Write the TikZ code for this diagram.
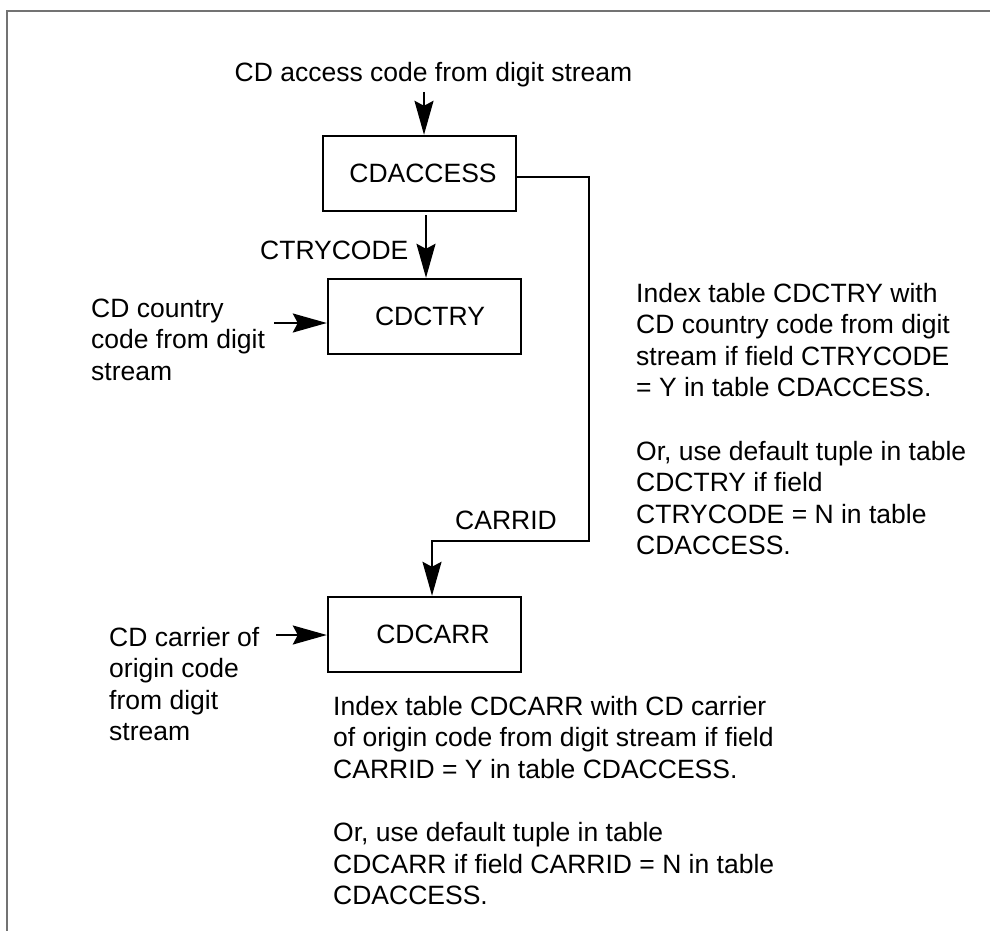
\documentclass[tikz,border=0pt]{standalone}
\usepackage{fontspec}
\setmainfont{Liberation Sans}
\usetikzlibrary{arrows.meta,calc}
\newcommand\fsz{\fontsize{26.5}{31.6}\selectfont}
\definecolor{framegray}{RGB}{115,115,115}
\tikzset{
  tbl/.style={draw, line width=2.4pt, minimum width=193pt, minimum height=75pt, inner sep=0pt, font=\fsz},
  txt/.style={inner sep=0pt, font=\fsz},
  conn/.style={line width=2pt},
  arr/.style={conn, -{Stealth[length=34pt,width=19pt,inset=5pt]}},
  frameline/.style={draw=framegray, line width=2pt}
}
\begin{document}
\begin{tikzpicture}[x=1pt,y=-1pt]
\useasboundingbox (0,0) rectangle (990,931);
\draw[frameline] (7,931) -- (7,11) -- (990,11);

\node[tbl] (acc) at (419.5,173.5) {\hspace*{7pt}CDACCESS};
\node[tbl] (ctry) at (424.5,316.5) {\hspace*{11pt}CDCTRY};
\node[tbl] (carr) at (424.5,634.5) {\hspace*{17pt}CDCARR};

\node[txt, anchor=base] (top) at (433.5,82) {CD access code from digit stream};
\coordinate (a1) at (424,92);
\draw[arr] (a1) -- (a1 |- acc.north);

\coordinate (a2) at (426,215);
\draw[arr] (a2) -- (a2 |- ctry.north);
\node[txt, anchor=base west] (ctrycode) at (260,259) {CTRYCODE};

\node[txt, anchor=base west, align=left] (ctryin) at (91,380.2) {CD country\\code from digit\\stream};
\coordinate (a3) at (274,323);
\draw[arr] (a3) -- (a3 -| ctry.west);

\draw[arr] (acc.east |- 0,177) -| (589,541) -| (carr.north -| 432,0);
\node[txt, anchor=base west] (carrid) at (455,529) {CARRID};

\node[txt, anchor=base west, align=left] (carrin) at (109,740.8) {CD carrier of\\origin code\\from digit\\stream};
\coordinate (a4) at (276,635);
\draw[arr] (a4) -- (a4 -| carr.west);

\node[txt, anchor=base west, align=left] (note1) at (636,554.8) {Index table CDCTRY with\\CD country code from digit\\stream if field CTRYCODE\\= Y in table CDACCESS.\\[31.6pt]Or, use default tuple in table\\CDCTRY if field\\CTRYCODE = N in table\\CDACCESS.};

\node[txt, anchor=base west, align=left] (note2) at (333,904.6) {Index table CDCARR with CD carrier\\of origin code from digit stream if field\\CARRID = Y in table CDACCESS.\\[31.6pt]Or, use default tuple in table\\CDCARR if field CARRID = N in table\\CDACCESS.};
\end{tikzpicture}
\end{document}
